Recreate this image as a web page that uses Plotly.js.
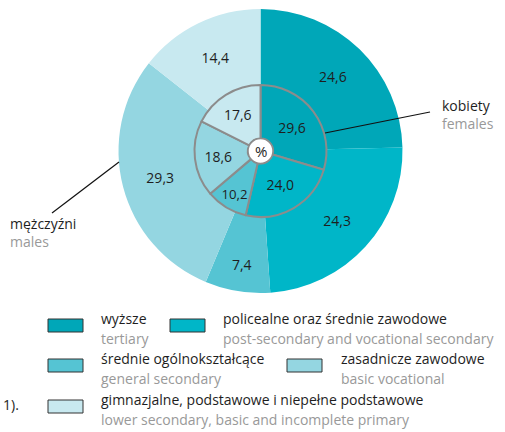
<!DOCTYPE html>
<html><head><meta charset="utf-8">
<script src="https://cdn.plot.ly/plotly-3.0.1.min.js"></script>
<style>body{margin:0;background:#fff}#c{width:505px;height:432px}</style>
</head><body><div id="c"></div>
<script>
const categoriesPL = ["wyższe","policealne oraz średnie zawodowe","średnie ogólnokształcące","zasadnicze zawodowe","gimnazjalne, podstawowe i niepełne podstawowe"];
const categoriesEN = ["tertiary","post-secondary and vocational secondary","general secondary","basic vocational","lower secondary, basic and incomplete primary"];
const males = [24.6, 24.3, 7.4, 29.3, 14.4];
const females = [29.6, 24.0, 10.2, 18.6, 17.6];
const colors = ["#00a7b8","#00b6c8","#55c4d3","#94d6e1","#c8e9f0"];

const W=505,H=432;
const px=x=>x/W, py=y=>1-y/H;
const fmt=v=>v.toFixed(1).replace('.',',');
const font="Open Sans, sans-serif";
const FS=14;

// geometry
const cx=260.5, cy=151, R=142, r=66;

const outer={type:'pie',values:males,labels:categoriesEN,sort:false,direction:'clockwise',rotation:0,
  hole:0.46,marker:{colors:colors,line:{width:0}},text:males.map(fmt),textinfo:'text',
  textposition:'inside',insidetextorientation:'horizontal',hoverinfo:'none',showlegend:false,
  textfont:{family:font,size:FS,color:'#1e1e1e'},
  domain:{x:[px(cx-R),px(cx+R)],y:[py(cy+R),py(cy-R)]}};
const inner={type:'pie',values:females,labels:categoriesEN,sort:false,direction:'clockwise',rotation:0,
  hole:0.19,marker:{colors:colors,line:{width:2,color:'#8c8c8c'}},text:females.map(fmt),textinfo:'text',
  textposition:'inside',insidetextorientation:'horizontal',hoverinfo:'none',showlegend:false,
  textfont:{family:font,size:FS,color:'#1e1e1e'},
  domain:{x:[px(cx-r),px(cx+r)],y:[py(cy+r),py(cy-r)]}};

const shapes=[
  {type:'circle',xref:'paper',yref:'paper',x0:px(cx-12.5),x1:px(cx+12.5),y0:py(cy+12.5),y1:py(cy-12.5),
   fillcolor:'#fff',line:{color:'#8c8c8c',width:1.5},layer:'above'},
  {type:'line',xref:'paper',yref:'paper',x0:px(325),y0:py(133),x1:px(430),y1:py(112),line:{color:'#111',width:1.2},layer:'above'},
  {type:'line',xref:'paper',yref:'paper',x0:px(52),y0:py(213),x1:px(119),y1:py(162),line:{color:'#111',width:1.2},layer:'above'}
];
function A(text,x,y,color,xanchor){
  return {text:text,x:px(x),y:py(y),xref:'paper',yref:'paper',xanchor:xanchor||'left',yanchor:'middle',
    showarrow:false,font:{family:font,size:FS,color:color}};
}
const ann=[
  Object.assign(A('%',cx,cy,'#1e1e1e','center'),{font:{family:font,size:15,color:'#1e1e1e'}}),
  A('kobiety',440,105,'#1e1e1e'),
  A('females',440,124,'#999'),
  A('mężczyźni',8,223,'#1e1e1e'),
  A('males',8,241,'#999'),
  A('1).',1,404,'#1e1e1e')
];
// legend layout: [boxLeft, rowTop, textLeft]
const legPos=[[48,319,99],[170,319,221],[48,359,99],[287,359,339],[48,400,99]];
legPos.forEach((p,i)=>{
  shapes.push({type:'rect',xref:'paper',yref:'paper',x0:px(p[0]),x1:px(p[0]+35),y0:py(p[1]+13),y1:py(p[1]),
    fillcolor:colors[i],line:{color:'#333',width:1}});
  ann.push(A(categoriesPL[i],p[2],p[1]-1,'#1e1e1e'));
  ann.push(A(categoriesEN[i],p[2],p[1]+19,'#999'));
});

Plotly.newPlot('c',[outer,inner],{width:W,height:H,margin:{l:0,r:0,t:0,b:0},paper_bgcolor:'#fff',
  showlegend:false,shapes:shapes,annotations:ann},{staticPlot:true});
</script></body></html>
